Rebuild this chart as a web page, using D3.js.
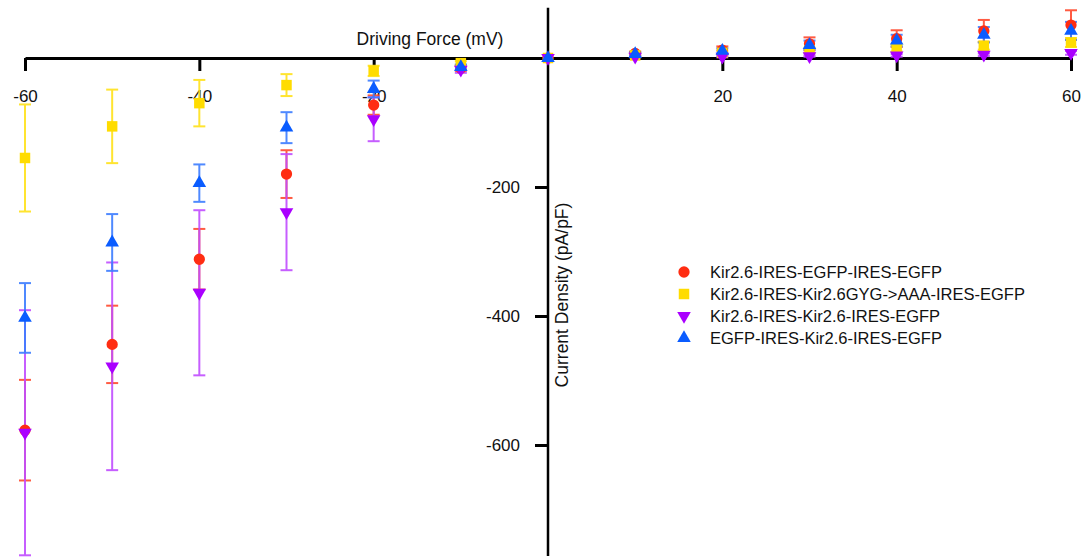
<!DOCTYPE html>
<html>
<head>
<meta charset="utf-8">
<script src="https://cdn.jsdelivr.net/npm/d3@7"></script>
<style>
  html, body { margin: 0; padding: 0; background: #fff; }
  svg { display: block; font-family: "Liberation Sans", Arial, Helvetica, sans-serif; }
</style>
</head>
<body>
<svg id="chart" width="1087" height="558"></svg>
<script>
// Driving force steps (mV)
const voltages = [-60, -50, -40, -30, -20, -10, 0, 10, 20, 30, 40, 50, 60];

// Mean current density (pA/pF) and SEM for each construct
const redMean    = [-577, -444, -312, -180, -73, -16, 0, 7, 12, 22, 30, 42, 51];
const redErr     = [78, 60, 47, 37, 15, 4, 0, 3, 6, 10, 13, 17, 23];
const yellowMean = [-155, -106, -70, -42, -20, -8, 0, 4, 8, 12, 15, 19, 24];
const yellowErr  = [83, 57, 36, 17, 8, 3, 0, 2, 3, 4, 5, 6, 7];
const purpleMean = [-581, -478, -364, -239, -95, -18, 0, 2, 2, 3, 4, 5, 8];
const purpleErr  = [190, 161, 128, 90, 34, 5, 0, 1, 1, 1, 2, 2, 3];
const blueMean   = [-403, -286, -194, -108, -48, -14, 0, 6, 11, 20, 27, 36, 42];
const blueErr    = [54, 44, 29, 24, 13, 4, 0, 3, 4, 7, 9, 12, 14];

const seriesNames = [
  "Kir2.6-IRES-EGFP-IRES-EGFP",
  "Kir2.6-IRES-Kir2.6GYG->AAA-IRES-EGFP",
  "Kir2.6-IRES-Kir2.6-IRES-EGFP",
  "EGFP-IRES-Kir2.6-IRES-EGFP"
];

const xTicks = [-60, -40, -20, 20, 40, 60];
const yTicks = [-200, -400, -600];

const series = [
  { name: seriesNames[0], mean: redMean,    err: redErr,    color: "#ff2d12", bar: "#ff4a2e", shape: d3.symbolCircle,   size: 100, rot: 0 },
  { name: seriesNames[1], mean: yellowMean, err: yellowErr, color: "#ffdc00", bar: "#ffe21a", shape: d3.symbolSquare,   size: 110, rot: 0 },
  { name: seriesNames[2], mean: purpleMean, err: purpleErr, color: "#aa00ff", bar: "#c04dff", shape: d3.symbolTriangle, size: 80,  rot: 180 },
  { name: seriesNames[3], mean: blueMean,   err: blueErr,   color: "#0a5cff", bar: "#3c7dff", shape: d3.symbolTriangle, size: 80,  rot: 0 }
];

const svg = d3.select("#chart");

const x = d3.scaleLinear().domain([-60, 60]).range([25, 1071]);
const y = d3.scaleLinear().domain([0, -600]).range([58, 445]);

// Horizontal axis through zero current
const xAxis = d3.axisBottom(x)
  .tickValues(xTicks)
  .tickFormat(d => String(d))
  .tickSize(13)
  .tickSizeOuter(0)
  .tickPadding(19);

const gx = svg.append("g")
  .attr("transform", `translate(0,${y(0)})`)
  .call(xAxis);
gx.select(".domain").attr("stroke", "#000").attr("stroke-width", 3);
gx.selectAll(".tick line").attr("stroke", "#000").attr("stroke-width", 3);
gx.selectAll(".tick text").attr("fill", "#111").style("font-size", "17px");

// Vertical axis through zero driving force
const yAxis = d3.axisLeft(y)
  .tickValues(yTicks)
  .tickFormat(d => String(d))
  .tickSize(13)
  .tickSizeOuter(0)
  .tickPadding(15);

const gy = svg.append("g")
  .attr("transform", `translate(${x(0)},0)`)
  .call(yAxis);
gy.select(".domain").remove();
gy.append("line")
  .attr("x1", 0).attr("x2", 0)
  .attr("y1", y(78)).attr("y2", y(-772))
  .attr("stroke", "#000").attr("stroke-width", 2.5);
gy.selectAll(".tick line").attr("stroke", "#000").attr("stroke-width", 3);
gy.selectAll(".tick text").attr("fill", "#111").style("font-size", "17px");

// Axis titles
svg.append("text")
  .attr("x", 430).attr("y", 45)
  .attr("text-anchor", "middle")
  .attr("fill", "#111")
  .style("font-size", "17.5px")
  .text("Driving Force (mV)");

svg.append("text")
  .attr("transform", `translate(${x(0) + 20},${295}) rotate(-90)`)
  .attr("text-anchor", "middle")
  .attr("fill", "#111")
  .style("font-size", "17.5px")
  .text("Current Density (pA/pF)");

// Error bars and markers
const capHalf = 6;
series.forEach(s => {
  const g = svg.append("g");
  const pts = voltages.map((v, i) => ({ v, m: s.mean[i], e: s.err[i] })).filter(p => p.e > 0);
  const bars = g.selectAll("g.bar").data(pts).join("g").attr("class", "bar")
    .attr("stroke", s.bar).attr("stroke-width", 2).attr("opacity", 0.9);
  bars.append("line")
    .attr("x1", d => x(d.v)).attr("x2", d => x(d.v))
    .attr("y1", d => y(d.m + d.e)).attr("y2", d => y(d.m - d.e));
  bars.append("line")
    .attr("x1", d => x(d.v) - capHalf).attr("x2", d => x(d.v) + capHalf)
    .attr("y1", d => y(d.m + d.e)).attr("y2", d => y(d.m + d.e));
  bars.append("line")
    .attr("x1", d => x(d.v) - capHalf).attr("x2", d => x(d.v) + capHalf)
    .attr("y1", d => y(d.m - d.e)).attr("y2", d => y(d.m - d.e));
});

series.forEach(s => {
  const sym = d3.symbol().type(s.shape).size(s.size);
  svg.append("g").selectAll("path")
    .data(voltages.map((v, i) => ({ v, m: s.mean[i] })))
    .join("path")
    .attr("d", sym)
    .attr("fill", s.color)
    .attr("transform", d => `translate(${x(d.v)},${y(d.m)}) rotate(${s.rot})`);
});

// Legend
const legend = svg.append("g").attr("transform", "translate(684,272)");
series.forEach((s, i) => {
  const row = legend.append("g").attr("transform", `translate(0,${i * 22})`);
  row.append("path")
    .attr("d", d3.symbol().type(s.shape).size(s.size)())
    .attr("fill", s.color)
    .attr("transform", `rotate(${s.rot})`);
  row.append("text")
    .attr("x", 26).attr("y", 6)
    .attr("fill", "#111")
    .style("font-size", "16.5px")
    .text(s.name);
});
</script>
</body>
</html>
